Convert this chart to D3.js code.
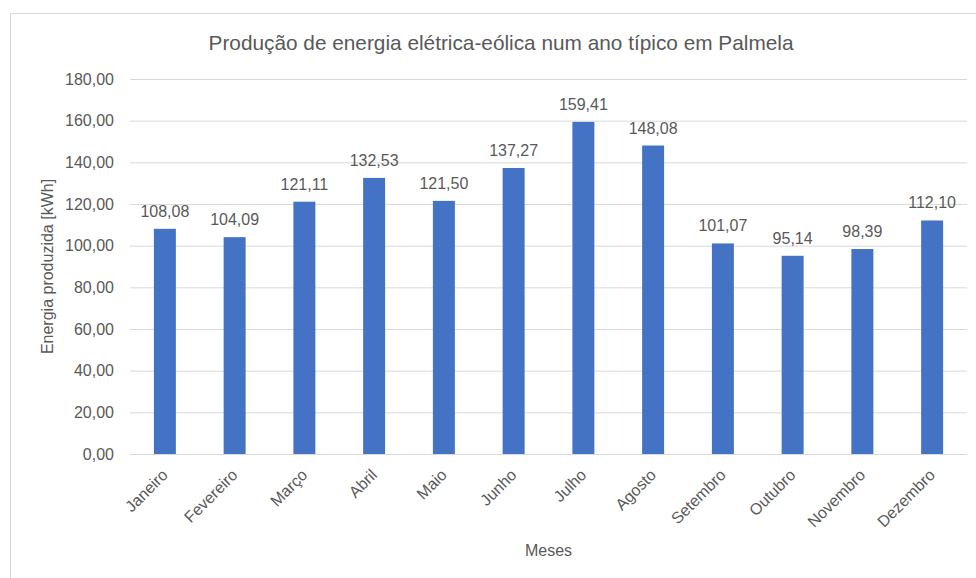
<!DOCTYPE html>
<html>
<head>
<meta charset="utf-8">
<script src="https://cdn.jsdelivr.net/npm/d3@7"></script>
<style>
  html, body { margin: 0; padding: 0; background: #fff; }
  svg { display: block; font-family: "Liberation Sans", Arial, sans-serif; }
</style>
</head>
<body>
<svg id="chart" width="976" height="578"></svg>
<script>
// Monthly wind-electric energy production (kWh)
const months = ["Janeiro", "Fevereiro", "Março", "Abril", "Maio", "Junho",
                "Julho", "Agosto", "Setembro", "Outubro", "Novembro", "Dezembro"];
const energy = [108.08, 104.09, 121.11, 132.53, 121.50, 137.27,
                159.41, 148.08, 101.07, 95.14, 98.39, 112.10];
const yTicks = [0, 20, 40, 60, 80, 100, 120, 140, 160, 180];

const titleText = "Produção de energia elétrica-eólica num ano típico em Palmela";
const yTitle = "Energia produzida [kWh]";
const xTitle = "Meses";

const svg = d3.select("#chart");
const plot = { left: 130, right: 967, top: 79, bottom: 454 };
const textColor = "#595959";
const fontFamily = "Liberation Sans, Arial, sans-serif";
const fontSize = 16;
const fmt = v => d3.format(".2f")(v).replace(".", ",");

// Chart frame
svg.append("rect")
  .attr("x", 10.5).attr("y", 13.5)
  .attr("width", 1000).attr("height", 600)
  .attr("fill", "#fff").attr("stroke", "#d9d9d9").attr("stroke-width", 1);

const x = d3.scaleBand().domain(months)
  .range([plot.left, plot.right]).paddingInner(0.685).paddingOuter(0.3425);
const y = d3.scaleLinear().domain([0, 180]).range([plot.bottom, plot.top]);

// Gridlines and y labels
const yAxis = d3.axisLeft(y).tickValues(yTicks).tickFormat(fmt)
  .tickSize(-(plot.right - plot.left)).tickPadding(16);
const gy = svg.append("g").attr("transform", `translate(${plot.left},0)`).call(yAxis)
  .attr("font-size", fontSize).attr("font-family", fontFamily);
gy.select(".domain").remove();
gy.selectAll(".tick line").attr("stroke", "#d9d9d9").attr("stroke-width", 1);
gy.selectAll(".tick text").attr("fill", textColor);

// Bars
svg.append("g").selectAll("rect").data(months).join("rect")
  .attr("x", d => x(d))
  .attr("width", x.bandwidth())
  .attr("y", (d, i) => y(energy[i]))
  .attr("height", (d, i) => y(0) - y(energy[i]))
  .attr("fill", "#4472c4");

// Value labels
svg.append("g").attr("font-size", fontSize).attr("font-family", fontFamily)
  .selectAll("text").data(months).join("text")
  .attr("x", d => x(d) + x.bandwidth() / 2)
  .attr("y", (d, i) => y(energy[i]) - 12)
  .attr("text-anchor", "middle")
  .attr("fill", textColor)
  .text((d, i) => fmt(energy[i]));

// X axis labels, rotated
const xAxis = d3.axisBottom(x).tickSize(0).tickPadding(0);
const gx = svg.append("g").attr("transform", `translate(0,${plot.bottom})`).call(xAxis)
  .attr("font-size", fontSize).attr("font-family", fontFamily);
gx.select(".domain").remove();
gx.selectAll(".tick text")
  .attr("fill", textColor)
  .attr("text-anchor", "end")
  .attr("y", 0)
  .attr("dy", 0)
  .attr("transform", "translate(4,22) rotate(-45)");

// Titles
svg.append("text")
  .attr("x", 501).attr("y", 50)
  .attr("text-anchor", "middle")
  .attr("font-family", fontFamily)
  .attr("fill", textColor).attr("font-size", 20.8)
  .text(titleText);

svg.append("text")
  .attr("transform", `translate(53,${(plot.top + plot.bottom) / 2}) rotate(-90)`)
  .attr("text-anchor", "middle")
  .attr("font-family", fontFamily)
  .attr("fill", textColor).attr("font-size", fontSize)
  .text(yTitle);

svg.append("text")
  .attr("x", (plot.left + plot.right) / 2).attr("y", 556)
  .attr("text-anchor", "middle")
  .attr("font-family", fontFamily)
  .attr("fill", textColor).attr("font-size", fontSize)
  .text(xTitle);
</script>
</body>
</html>
